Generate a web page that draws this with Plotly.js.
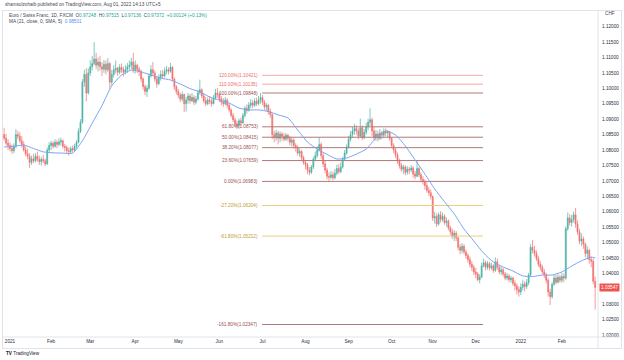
<!DOCTYPE html>
<html><head><meta charset="utf-8">
<script src="https://cdn.plot.ly/plotly-3.0.1.min.js"></script>
<style>html,body{margin:0;padding:0;background:#fff}#chart{width:624px;height:360px}</style>
</head><body><div id="chart"></div>
<script>
// ---- DATA (EUR/CHF daily, FXCM) ----
const firstDay = '2020-12-29';
const open = [
1.0850,1.0838,1.0822,
1.0815,1.0805,1.0798,1.0812,1.0850,1.0845,1.0830,1.0818,1.0800,1.0788,1.0780,1.0760,1.0772,1.0765,1.0780,1.0770,1.0762,1.0770,1.0765,1.0755,1.0800,
1.0815,1.0822,1.0812,1.0825,1.0818,1.0826,1.0830,1.0812,1.0808,1.0798,1.0795,1.0805,1.0800,1.0812,1.0825,1.0860,1.0890,1.1020,1.1045,1.0985,
1.1050,1.1070,1.1080,1.1095,1.1075,1.1085,1.1070,1.1062,1.1078,1.1060,1.1080,1.1020,1.1045,1.1060,1.1065,1.1052,1.1068,1.1060,1.1052,1.1062,1.1070,1.1075,1.1085,
1.1060,1.1075,1.1062,1.1055,1.1030,1.1005,1.0990,1.1000,1.1040,1.1060,1.1050,1.1030,1.1015,1.1035,1.1045,1.1040,1.1055,1.1060,1.1055,1.1068,1.1030,1.1005,
1.0990,1.0978,1.0965,1.0980,1.0950,1.0962,1.0975,1.0960,1.0970,1.0955,1.0965,1.0985,1.0995,1.0975,1.0960,1.0950,1.0962,1.0958,1.0950,1.0968,1.0985,
1.0980,1.0965,1.0955,1.0950,1.0962,1.0945,1.0930,1.0912,1.0898,1.0885,1.0880,1.0895,1.0888,1.0912,1.0935,1.0928,1.0945,1.0952,1.0945,1.0958,1.0950,1.0962,
1.0970,1.0955,1.0940,1.0945,1.0925,1.0915,1.0850,1.0840,1.0855,1.0838,1.0852,1.0845,1.0835,1.0848,1.0838,1.0825,1.0832,1.0815,1.0808,1.0790,1.0795,1.0775,
1.0760,1.0752,1.0735,1.0728,1.0745,1.0770,1.0782,1.0800,1.0818,1.0782,1.0755,1.0735,1.0715,1.0712,1.0720,1.0710,1.0725,1.0740,1.0730,1.0745,1.0770,1.0790,
1.0810,1.0835,1.0850,1.0862,1.0870,1.0862,1.0845,1.0872,1.0840,1.0858,1.0875,1.0890,1.0898,1.0862,1.0840,1.0852,1.0838,1.0855,1.0848,1.0860,1.0855,1.0858,
1.0838,1.0815,1.0800,1.0785,1.0765,1.0750,1.0738,1.0745,1.0728,1.0738,1.0735,1.0742,1.0722,1.0715,1.0740,1.0720,1.0705,1.0698,1.0685,1.0670,1.0662,
1.0650,1.0580,1.0585,1.0560,1.0590,1.0575,1.0585,1.0565,1.0570,1.0548,1.0535,1.0520,1.0530,1.0515,1.0485,1.0475,1.0488,1.0470,1.0458,1.0445,1.0430,1.0420,
1.0405,1.0398,1.0380,1.0388,1.0425,1.0435,1.0420,1.0432,1.0418,1.0425,1.0410,1.0438,1.0420,1.0405,1.0412,1.0398,1.0385,1.0392,1.0380,1.0385,1.0368,1.0360,1.0348,
1.0340,1.0355,1.0365,1.0358,1.0370,1.0395,1.0485,1.0475,1.0465,1.0448,1.0430,1.0420,1.0405,1.0395,1.0378,1.0340,1.0325,1.0365,1.0385,1.0372,1.0388,
1.0378,1.0390,1.0385,1.0545,1.0580,1.0565,1.0575,1.0590,1.0560,1.0535,1.0505,1.0512,1.0495,1.0465,1.0475,1.0445,1.0440,1.0375
];
const high = [
1.0872,1.0852,1.0835,
1.0825,1.0818,1.0822,1.0868,1.0862,1.0858,1.0845,1.0828,1.0812,1.0805,1.0790,1.0782,1.0788,1.0790,1.0795,1.0782,1.0778,1.0785,1.0772,1.0808,1.0825,
1.0830,1.0828,1.0835,1.0832,1.0838,1.0840,1.0834,1.0820,1.0815,1.0808,1.0812,1.0815,1.0820,1.0832,1.0870,1.0900,1.1030,1.1060,1.1065,1.1065,
1.1090,1.1105,1.1150,1.1115,1.1100,1.1105,1.1085,1.1092,1.1090,1.1098,1.1085,1.1060,1.1075,1.1090,1.1070,1.1078,1.1080,1.1070,1.1075,1.1082,1.1090,1.1098,1.1115,
1.1090,1.1080,1.1070,1.1060,1.1035,1.1012,1.1010,1.1048,1.1075,1.1085,1.1058,1.1040,1.1045,1.1058,1.1060,1.1068,1.1072,1.1068,1.1082,1.1072,1.1035,1.1010,
1.0998,1.0985,1.0990,1.0982,1.0972,1.0985,1.0982,1.0985,1.0978,1.0975,1.0995,1.1028,1.1000,1.0985,1.0972,1.0970,1.0975,1.0968,1.0978,1.0998,1.1001,
1.0988,1.0975,1.0968,1.0972,1.0968,1.0952,1.0935,1.0920,1.0905,1.0895,1.0902,1.0905,1.0920,1.0942,1.0948,1.0955,1.0965,1.0962,1.0968,1.0970,1.0975,1.0985,
1.0978,1.0962,1.0952,1.0950,1.0935,1.0918,1.0862,1.0865,1.0862,1.0860,1.0858,1.0855,1.0855,1.0852,1.0845,1.0842,1.0838,1.0822,1.0815,1.0805,1.0800,1.0782,
1.0768,1.0758,1.0745,1.0752,1.0778,1.0795,1.0812,1.0840,1.0825,1.0790,1.0765,1.0742,1.0728,1.0732,1.0730,1.0738,1.0752,1.0755,1.0760,1.0778,1.0800,1.0818,
1.0845,1.0862,1.0875,1.0885,1.0880,1.0870,1.0902,1.0880,1.0868,1.0888,1.0902,1.0935,1.0905,1.0875,1.0865,1.0862,1.0868,1.0862,1.0870,1.0870,1.0865,1.0862,
1.0842,1.0822,1.0808,1.0792,1.0772,1.0758,1.0752,1.0750,1.0748,1.0745,1.0752,1.0748,1.0732,1.0768,1.0745,1.0728,1.0715,1.0705,1.0695,1.0680,1.0672,
1.0652,1.0600,1.0595,1.0598,1.0602,1.0598,1.0592,1.0582,1.0575,1.0555,1.0545,1.0540,1.0538,1.0520,1.0495,1.0498,1.0495,1.0478,1.0465,1.0455,1.0440,1.0428,
1.0418,1.0405,1.0398,1.0435,1.0448,1.0442,1.0440,1.0438,1.0435,1.0430,1.0452,1.0448,1.0428,1.0422,1.0418,1.0405,1.0402,1.0398,1.0392,1.0390,1.0378,1.0368,1.0358,
1.0368,1.0378,1.0375,1.0382,1.0402,1.0495,1.0508,1.0490,1.0475,1.0458,1.0440,1.0428,1.0415,1.0402,1.0385,1.0350,1.0372,1.0395,1.0395,1.0398,1.0395,
1.0402,1.0400,1.0552,1.0598,1.0592,1.0590,1.0600,1.0612,1.0572,1.0545,1.0530,1.0520,1.0500,1.0488,1.0480,1.0455,1.0448,1.0390
];
const low = [
1.0830,1.0815,1.0800,
1.0795,1.0788,1.0790,1.0805,1.0835,1.0822,1.0808,1.0795,1.0780,1.0770,1.0742,1.0752,1.0758,1.0760,1.0762,1.0752,1.0750,1.0758,1.0748,1.0752,1.0790,
1.0800,1.0805,1.0808,1.0806,1.0812,1.0815,1.0805,1.0795,1.0790,1.0782,1.0788,1.0792,1.0795,1.0805,1.0822,1.0855,1.0885,1.1005,1.0958,1.0980,
1.1040,1.1058,1.1075,1.1062,1.1055,1.1058,1.1040,1.1050,1.1045,1.1052,1.0998,1.1010,1.1035,1.1048,1.1040,1.1045,1.1050,1.1038,1.1045,1.1050,1.1058,1.1062,1.1050,
1.1048,1.1050,1.1040,1.1020,1.0995,1.0978,1.0972,1.0995,1.1035,1.1040,1.1022,1.1002,1.1010,1.1025,1.1030,1.1035,1.1045,1.1045,1.1050,1.1022,1.0995,1.0980,
1.0968,1.0955,1.0958,1.0923,1.0925,1.0950,1.0950,1.0955,1.0945,1.0948,1.0960,1.0980,1.0968,1.0952,1.0942,1.0945,1.0948,1.0940,1.0948,1.0962,1.0970,
1.0955,1.0945,1.0940,1.0945,1.0935,1.0922,1.0905,1.0890,1.0875,1.0868,1.0872,1.0878,1.0885,1.0905,1.0918,1.0925,1.0935,1.0935,1.0940,1.0942,1.0945,1.0950,
1.0945,1.0930,1.0925,1.0915,1.0905,1.0835,1.0825,1.0830,1.0818,1.0825,1.0830,1.0828,1.0830,1.0828,1.0815,1.0812,1.0805,1.0795,1.0782,1.0778,1.0765,1.0752,
1.0738,1.0722,1.0718,1.0722,1.0738,1.0765,1.0775,1.0795,1.0772,1.0745,1.0725,1.0705,1.0698,1.0705,1.0702,1.0705,1.0718,1.0722,1.0725,1.0740,1.0765,1.0785,
1.0805,1.0828,1.0840,1.0850,1.0850,1.0835,1.0840,1.0832,1.0835,1.0850,1.0865,1.0878,1.0845,1.0830,1.0830,1.0828,1.0832,1.0835,1.0840,1.0845,1.0840,1.0830,
1.0808,1.0790,1.0775,1.0755,1.0740,1.0730,1.0722,1.0718,1.0720,1.0722,1.0728,1.0710,1.0705,1.0712,1.0712,1.0695,1.0688,1.0672,1.0662,1.0652,1.0640,
1.0570,1.0562,1.0550,1.0555,1.0565,1.0568,1.0558,1.0552,1.0540,1.0525,1.0512,1.0505,1.0505,1.0475,1.0462,1.0465,1.0462,1.0448,1.0435,1.0420,1.0408,1.0395,
1.0385,1.0375,1.0368,1.0385,1.0420,1.0410,1.0412,1.0410,1.0412,1.0402,1.0405,1.0412,1.0398,1.0395,1.0390,1.0378,1.0378,1.0372,1.0370,1.0360,1.0345,1.0332,1.0325,
1.0330,1.0345,1.0342,1.0350,1.0362,1.0390,1.0465,1.0455,1.0440,1.0422,1.0410,1.0398,1.0385,1.0368,1.0325,1.0298,1.0318,1.0360,1.0365,1.0368,1.0370,
1.0370,1.0372,1.0380,1.0538,1.0555,1.0552,1.0565,1.0548,1.0525,1.0495,1.0490,1.0480,1.0452,1.0445,1.0432,1.0420,1.0365,1.0283
];
const close = [
1.0838,1.0822,1.0815,
1.0805,1.0798,1.0812,1.0850,1.0845,1.0830,1.0818,1.0800,1.0788,1.0780,1.0760,1.0772,1.0765,1.0780,1.0770,1.0762,1.0770,1.0765,1.0755,1.0800,1.0815,
1.0822,1.0812,1.0825,1.0818,1.0826,1.0830,1.0812,1.0808,1.0798,1.0795,1.0805,1.0800,1.0812,1.0825,1.0860,1.0890,1.1020,1.1045,1.0985,1.1050,
1.1070,1.1080,1.1095,1.1075,1.1085,1.1070,1.1062,1.1078,1.1060,1.1080,1.1020,1.1045,1.1060,1.1065,1.1052,1.1068,1.1060,1.1052,1.1062,1.1070,1.1075,1.1085,1.1060,
1.1075,1.1062,1.1055,1.1030,1.1005,1.0990,1.1000,1.1040,1.1060,1.1050,1.1030,1.1015,1.1035,1.1045,1.1040,1.1055,1.1060,1.1055,1.1068,1.1030,1.1005,1.0990,
1.0978,1.0965,1.0980,1.0950,1.0962,1.0975,1.0960,1.0970,1.0955,1.0965,1.0985,1.0995,1.0975,1.0960,1.0950,1.0962,1.0958,1.0950,1.0968,1.0985,1.0980,
1.0965,1.0955,1.0950,1.0962,1.0945,1.0930,1.0912,1.0898,1.0885,1.0880,1.0895,1.0888,1.0912,1.0935,1.0928,1.0945,1.0952,1.0945,1.0958,1.0950,1.0962,1.0970,
1.0955,1.0940,1.0945,1.0925,1.0915,1.0850,1.0840,1.0855,1.0838,1.0852,1.0845,1.0835,1.0848,1.0838,1.0825,1.0832,1.0815,1.0808,1.0790,1.0795,1.0775,1.0760,
1.0752,1.0735,1.0728,1.0745,1.0770,1.0782,1.0800,1.0818,1.0782,1.0755,1.0735,1.0715,1.0712,1.0720,1.0710,1.0725,1.0740,1.0730,1.0745,1.0770,1.0790,1.0810,
1.0835,1.0850,1.0862,1.0870,1.0862,1.0845,1.0872,1.0840,1.0858,1.0875,1.0890,1.0898,1.0862,1.0840,1.0852,1.0838,1.0855,1.0848,1.0860,1.0855,1.0858,1.0838,
1.0815,1.0800,1.0785,1.0765,1.0750,1.0738,1.0745,1.0728,1.0738,1.0735,1.0742,1.0722,1.0715,1.0740,1.0720,1.0705,1.0698,1.0685,1.0670,1.0662,1.0650,
1.0580,1.0585,1.0560,1.0590,1.0575,1.0585,1.0565,1.0570,1.0548,1.0535,1.0520,1.0530,1.0515,1.0485,1.0475,1.0488,1.0470,1.0458,1.0445,1.0430,1.0420,1.0405,
1.0398,1.0380,1.0388,1.0425,1.0435,1.0420,1.0432,1.0418,1.0425,1.0410,1.0438,1.0420,1.0405,1.0412,1.0398,1.0385,1.0392,1.0380,1.0385,1.0368,1.0360,1.0348,1.0340,
1.0355,1.0365,1.0358,1.0370,1.0395,1.0485,1.0475,1.0465,1.0448,1.0430,1.0420,1.0405,1.0395,1.0378,1.0340,1.0325,1.0365,1.0385,1.0372,1.0388,1.0378,
1.0390,1.0385,1.0545,1.0580,1.0565,1.0575,1.0590,1.0560,1.0535,1.0505,1.0512,1.0495,1.0465,1.0475,1.0445,1.0440,1.0375,1.03547
];
// MA(21) read weekly (Tuesdays from firstDay) plus the last day
const maFirst = '2020-12-29';
const maValues = [
1.0810,1.0812,1.0816,1.0805,1.0794,1.0791,1.0790,1.0790,1.0830,1.0887,
1.0944,1.1008,1.1043,1.1059,1.1053,1.1043,1.1033,1.1027,1.1014,1.0999,
1.0988,1.0972,1.0962,1.0952,1.0936,1.0930,1.0930,1.0925,1.0914,1.0904,
1.0865,1.0826,1.0803,1.0786,1.0771,1.0774,1.0787,1.0803,1.0839,1.0862,
1.0849,1.0813,1.0768,1.0722,1.0674,1.0633,1.0593,1.0544,1.0505,1.0466,
1.0437,1.0421,1.0408,1.0392,1.0390,1.0395,1.0395,1.0405,1.0424,1.0441,
1.0453
];
const maLast = {date:'2022-02-24', value:1.0450};
// Fibonacci retracement
const fibLevels = [1.2, 1.1, 1.0, 0.618, 0.5, 0.382, 0.236, 0, -0.272, -0.618, -1.618];
const fibPrices = [1.10421, 1.10135, 1.09848, 1.08753, 1.08415, 1.08077, 1.07659, 1.06983, 1.06204, 1.05212, 1.02347];
const fibLineColors = ['#f5aaaa','#f5aaaa','#b57878','#b57878','#b57878','#b57878','#b57878','#b57878','#efcb7c','#efcb7c','#b57878'];
const fibTextColors = ['#ef6a6a','#ef6a6a','#9c5050','#9c5050','#9c5050','#9c5050','#9c5050','#9c5050','#c49a2c','#c49a2c','#9c5050'];
const fibStart = '2021-06-30 19:00', fibEnd = '2021-12-06 17:00';
const tickDates = ['2021-01-01','2021-02-01','2021-03-01','2021-04-01','2021-05-03','2021-06-01','2021-07-01','2021-08-02','2021-09-01','2021-10-01','2021-11-01','2021-12-01','2022-01-03','2022-02-01'];
const tickLabels = ['2021','Feb','Mar','Apr','May','Jun','Jul','Aug','Sep','Oct','Nov','Dec','2022','Feb'];
const priceTicks = [1.02,1.025,1.03,1.035,1.04,1.045,1.05,1.055,1.06,1.065,1.07,1.075,1.08,1.085,1.09,1.095,1.10,1.105,1.11,1.115,1.12];
const lastPrice = 1.03547;

// ---- helpers ----
function weekdays(start, n){
  const out=[]; let t=new Date(start+'T00:00:00Z');
  while(out.length<n){const w=t.getUTCDay(); if(w!==0&&w!==6) out.push(t.toISOString().slice(0,10)); t=new Date(t.getTime()+86400000);}
  return out;
}
function everyWeek(start, n){
  const out=[]; let t=new Date(start+'T00:00:00Z');
  for(let i=0;i<n;i++){out.push(t.toISOString().slice(0,10)); t=new Date(t.getTime()+7*86400000);}
  return out;
}
const dates = weekdays(firstDay, close.length);
const maDates = everyWeek(maFirst, maValues.length).concat([maLast.date]);
const maY = maValues.concat([maLast.value]);
// price-scale labels hidden where the last-price tag sits (as the price scale does)
const shownTicks = priceTicks.filter(v => Math.abs(v - lastPrice) > 0.002);

const FONT = 'Liberation Sans, Arial, sans-serif';
const FS = 4.7;
const traces = [];
fibPrices.forEach((p,i)=>{
  traces.push({type:'scatter',mode:'lines',x:[fibStart,fibEnd],y:[p,p],line:{color:fibLineColors[i],width:1},hoverinfo:'skip',showlegend:false});
});
traces.push({type:'candlestick',x:dates,open:open,high:high,low:low,close:close,
  increasing:{line:{color:'#3aae9f',width:0.7},fillcolor:'#3aae9f'},
  decreasing:{line:{color:'#f06462',width:0.7},fillcolor:'#f06462'},
  whiskerwidth:0,opacity:0.92,hoverinfo:'skip',showlegend:false});
traces.push({type:'scatter',mode:'lines',x:maDates,y:maY,line:{color:'#7aa4f4',width:1,shape:'spline',smoothing:0.6},hoverinfo:'skip',showlegend:false});

// pixel helpers for paper coordinates (plot area x 3..598, y 11..337)
const px = x => (x-3)/595, py = y => (337-y)/326;
const ann = [];
fibPrices.forEach((p,i)=>{
  const lv = (fibLevels[i]*100).toFixed(2)+'%('+p.toFixed(5)+')';
  ann.push({x:fibStart,xref:'x',y:p,yref:'y',text:lv,showarrow:false,xanchor:'right',yanchor:'middle',xshift:-2,font:{family:FONT,size:FS,color:fibTextColors[i]}});
});
ann.push({xref:'paper',yref:'paper',x:px(3),y:py(4.5),xanchor:'left',yanchor:'middle',showarrow:false,
  text:'shamsulzohaib published on TradingView.com, Aug 01, 2022 14:13 UTC+5',font:{family:FONT,size:FS,color:'#434651'}});
const teal='#26a69a', g='#434651';
ann.push({xref:'paper',yref:'paper',x:px(7),y:py(15),xanchor:'left',yanchor:'middle',showarrow:false,
  text:'<span style="color:'+g+'">Euro / Swiss Franc, 1D, FXCM  O</span><span style="color:'+teal+'">0.97248</span><span style="color:'+g+'">  H</span><span style="color:'+teal+'">0.97515</span><span style="color:'+g+'">  L</span><span style="color:'+teal+'">0.97136</span><span style="color:'+g+'">  C</span><span style="color:'+teal+'">0.97372  +0.00124 (+0.13%)</span>',
  font:{family:FONT,size:FS,color:g}});
ann.push({xref:'paper',yref:'paper',x:px(7),y:py(21),xanchor:'left',yanchor:'middle',showarrow:false,
  text:'<span style="color:'+g+'">MA (21, close, 0, SMA, 5)  </span><span style="color:#5b8def">0.98501</span>',font:{family:FONT,size:FS,color:g}});
ann.push({xref:'paper',yref:'paper',x:px(603),y:py(14),xanchor:'left',yanchor:'middle',showarrow:false,text:'CHF',font:{family:FONT,size:FS,color:'#434651'}});
ann.push({xref:'paper',yref:'y',x:px(599),y:lastPrice,xanchor:'left',yanchor:'middle',showarrow:false,text:lastPrice.toFixed(5),
  bgcolor:'#ef5350',borderpad:1,font:{family:FONT,size:FS,color:'#ffffff'}});
ann.push({xref:'paper',yref:'paper',x:px(4),y:py(353),xanchor:'left',yanchor:'middle',showarrow:false,
  text:'<b>TV</b> TradingView',font:{family:FONT,size:FS,color:'#131722'}});

const lc='#e0e3eb';
const shapes = [
  {type:'line',xref:'paper',yref:'paper',x0:px(2),x1:px(622),y0:py(10.5),y1:py(10.5),line:{color:lc,width:1}},
  {type:'line',xref:'paper',yref:'paper',x0:px(2),x1:px(622),y0:py(337),y1:py(337),line:{color:lc,width:1}},
  {type:'line',xref:'paper',yref:'paper',x0:px(2),x1:px(622),y0:py(348.5),y1:py(348.5),line:{color:lc,width:1}},
  {type:'line',xref:'paper',yref:'paper',x0:px(2.5),x1:px(2.5),y0:py(10.5),y1:py(348.5),line:{color:lc,width:1}},
  {type:'line',xref:'paper',yref:'paper',x0:px(598),x1:px(598),y0:py(10.5),y1:py(348.5),line:{color:lc,width:1}},
  {type:'line',xref:'paper',yref:'paper',x0:px(621.5),x1:px(621.5),y0:py(10.5),y1:py(348.5),line:{color:lc,width:1}}
];

const layout = {
  width:624,height:360,margin:{l:3,r:26,t:11,b:23,pad:0},
  paper_bgcolor:'#ffffff',plot_bgcolor:'#ffffff',showlegend:false,
  font:{family:FONT,size:FS,color:'#131722'},
  xaxis:{type:'date',range:['2020-12-28 10:05','2022-02-25 11:00'],rangebreaks:[{bounds:['sat','mon']}],
    rangeslider:{visible:false},tickmode:'array',tickvals:tickDates,ticktext:tickLabels,ticks:'',
    showgrid:false,zeroline:false,showline:false,tickfont:{family:FONT,size:FS,color:'#2a2e39'},fixedrange:true},
  yaxis:{side:'right',range:[1.01942,1.12505],tickmode:'array',tickvals:shownTicks,tickformat:'.5f',ticks:'',
    showgrid:false,zeroline:false,showline:false,ticklabelstandoff:3,tickfont:{family:FONT,size:FS,color:'#2a2e39'},fixedrange:true},
  annotations:ann,shapes:shapes
};
Plotly.newPlot('chart',traces,layout,{displayModeBar:false,staticPlot:true});
</script></body></html>
